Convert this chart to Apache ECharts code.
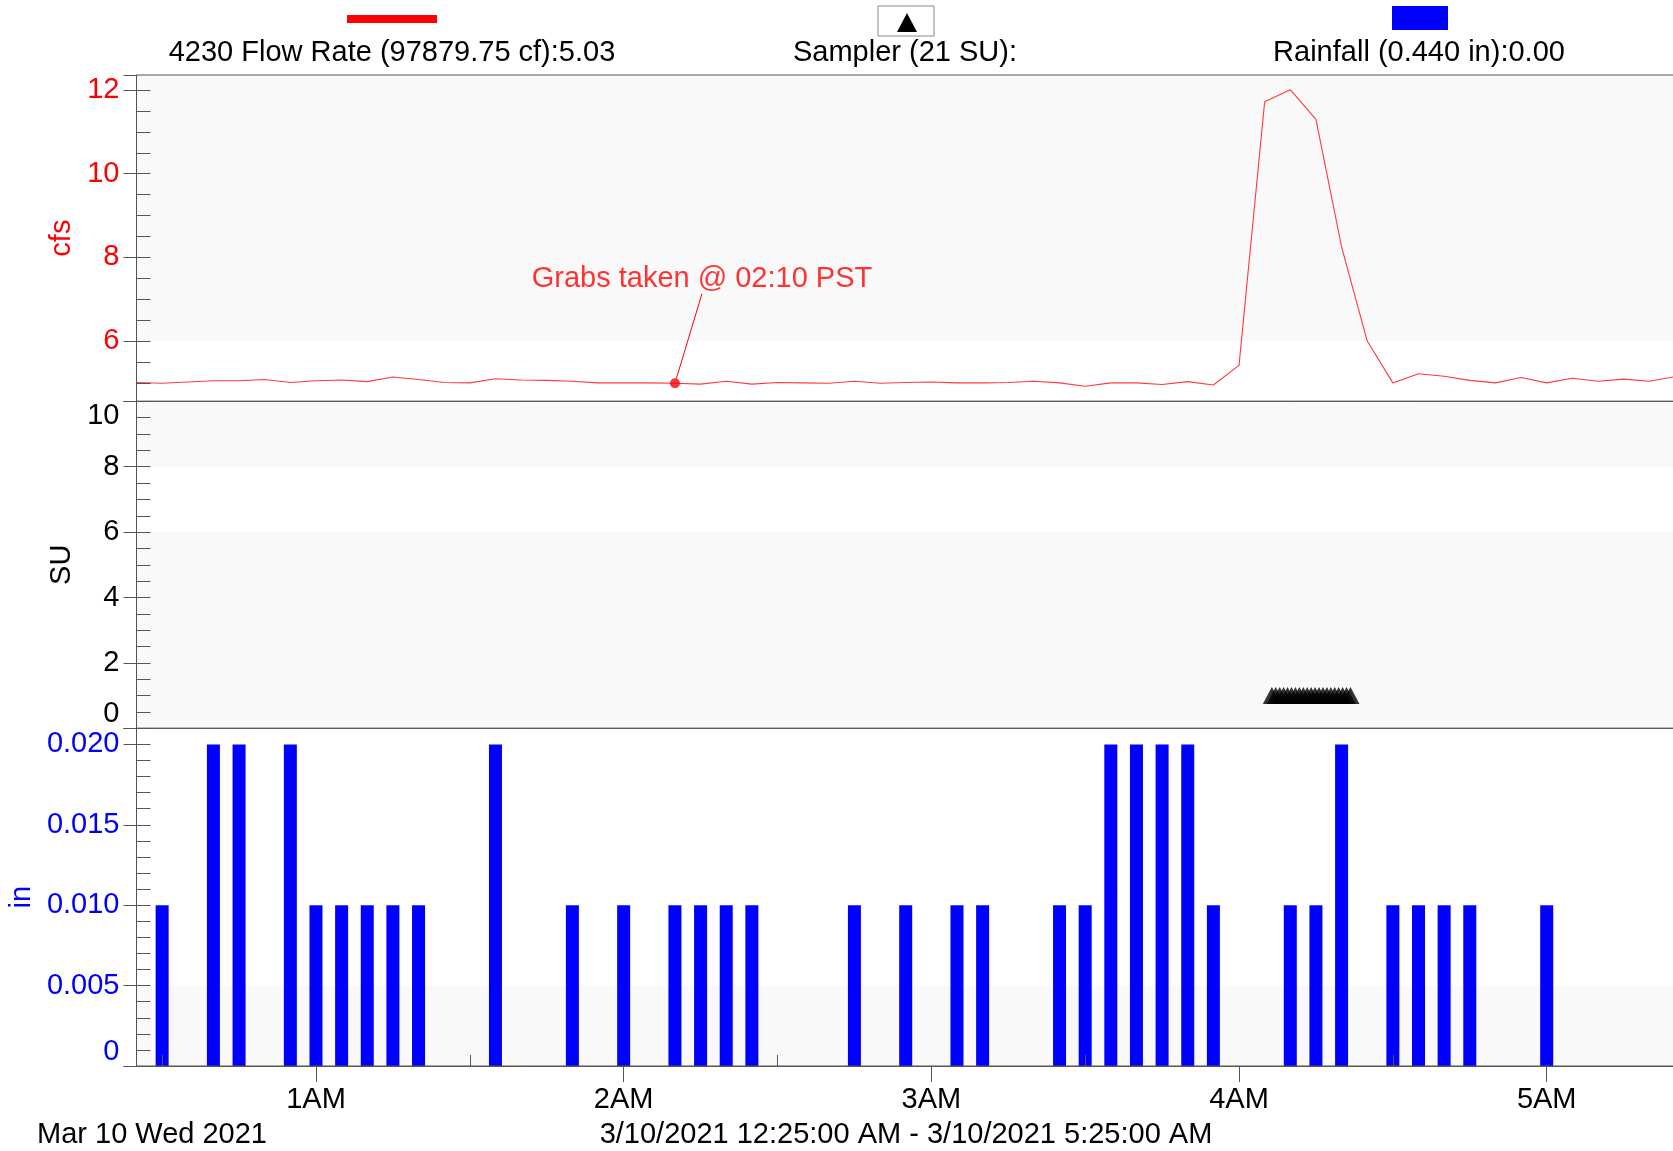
<!DOCTYPE html>
<html><head><meta charset="utf-8">
<script src="https://cdn.jsdelivr.net/npm/echarts@6/dist/echarts.min.js"></script>
<style>html,body{margin:0;padding:0;background:#fff;} #c{width:1673px;height:1151px;}</style>
</head><body><div id="c"></div>
<script>
// ---------- DATA ----------
const flowTimes = ['0:25','0:30','0:35','0:40','0:45','0:50','0:55','1:00','1:05','1:10','1:15','1:20','1:25','1:30','1:35','1:40','1:45','1:50','1:55','2:00','2:05','2:10','2:15','2:20','2:25','2:30','2:35','2:40','2:45','2:50','2:55','3:00','3:05','3:10','3:15','3:20','3:25','3:30','3:35','3:40','3:45','3:50','3:55','4:00','4:05','4:10','4:15','4:20','4:25','4:30','4:35','4:40','4:45','4:50','4:55','5:00','5:05','5:10','5:15','5:20','5:25'];
const flowValues = [5.01,4.99,5.02,5.05,5.05,5.08,5.01,5.05,5.07,5.03,5.14,5.08,5.01,5.00,5.10,5.07,5.06,5.04,5.00,5.00,5.00,4.99,4.97,5.04,4.97,5.01,5.00,4.99,5.04,4.99,5.01,5.02,5.00,5.00,5.01,5.04,5.00,4.92,5.00,5.00,4.96,5.03,4.95,5.42,11.72,12.01,11.30,8.25,6.00,5.00,5.22,5.16,5.06,5.00,5.13,5.00,5.11,5.04,5.09,5.04,5.15];

const rainTimes = ['0:30','0:40','0:45','0:55','1:00','1:05','1:10','1:15','1:20','1:35','1:50','2:00','2:10','2:15','2:20','2:25','2:45','2:55','3:05','3:10','3:25','3:30','3:35','3:40','3:45','3:50','3:55','4:10','4:15','4:20','4:30','4:35','4:40','4:45','5:00'];
const rainValues = [0.01,0.02,0.02,0.02,0.01,0.01,0.01,0.01,0.01,0.02,0.01,0.01,0.01,0.01,0.01,0.01,0.01,0.01,0.01,0.01,0.01,0.01,0.02,0.02,0.02,0.02,0.01,0.01,0.01,0.02,0.01,0.01,0.01,0.01,0.01];

const samplerTimes = ['4:06:24','4:07:10','4:07:56','4:08:42','4:09:28','4:10:14','4:11:00','4:11:46','4:12:32','4:13:18','4:14:04','4:14:50','4:15:36','4:16:22','4:17:08','4:17:54','4:18:40','4:19:26','4:20:12','4:20:58','4:21:44'];
const samplerValues = [1,1,1,1,1,1,1,1,1,1,1,1,1,1,1,1,1,1,1,1,1];

const xRange = ['0:25','5:26'];   // plot runs slightly past the right edge of the picture
const xTickTimes = ['1:00','2:00','3:00','4:00','5:00'];
const xTickLabels = ['1AM','2AM','3AM','4AM','5AM'];
const xHalfTickTimes = ['0:30','1:30','2:30','3:30','4:30'];

const flowRange = [4.56, 12.36];
const flowTickLabels = [6, 8, 10, 12];
const suRange = [0, 10];
const suTickLabels = [0, 2, 4, 6, 8, 10];
const rainRange = [0, 0.021];
const rainTickLabels = [0, 0.005, 0.010, 0.015, 0.020];

const grabTime = '2:10';
const grabValue = 4.99;
const grabText = 'Grabs taken @ 02:10 PST';

const legendFlowText = '4230 Flow Rate (97879.75 cf):5.03';
const legendSamplerText = 'Sampler (21 SU):';
const legendRainText = 'Rainfall (0.440 in):0.00';
const dateText = 'Mar 10 Wed 2021';
const rangeText = '3/10/2021 12:25:00 AM - 3/10/2021 5:25:00 AM';

// ---------- HELPERS ----------
function toMin(s) { const p = s.split(':').map(Number); return p[0] * 60 + p[1] + (p.length > 2 ? p[2] / 60 : 0); }
function steps(a, b, st) { const r = []; for (let v = a; v <= b + 1e-9; v += st) r.push(+v.toFixed(6)); return r; }

const FONT = '"Liberation Sans", Arial, sans-serif';
const RED = '#ff0000', BLUE = '#0000ff', AXIS = '#555', BAND = '#f9f9f9';
const FS = 29;

const xMin = toMin(xRange[0]), xMax = toMin(xRange[1]);
const pxPerMin = 5.128;
const gridLeft = 136.5, gridWidth = (xMax - xMin) * pxPerMin;

function hiddenX(gi) {
  return { type: 'value', gridIndex: gi, min: xMin, max: xMax, show: false };
}
function mainY(gi, range, labels, color, name, nameGap, fmt, extraLabel) {
  return {
    type: 'value', gridIndex: gi, min: range[0], max: range[1], position: 'left', z: 10,
    name: name, nameLocation: 'middle', nameRotate: 90, nameGap: nameGap,
    nameTextStyle: { color: color, fontSize: FS, fontFamily: FONT },
    axisLine: { show: true, lineStyle: { color: AXIS, width: 1 } },
    axisTick: { show: true, inside: false, length: 13, customValues: [range[0]].concat(labels, [range[1]]), lineStyle: { color: AXIS } },
    axisLabel: Object.assign({ show: true, customValues: labels, color: color, fontSize: FS, fontFamily: FONT, margin: 17, formatter: fmt }, extraLabel || {}),
    splitLine: { show: false }
  };
}
function minorY(gi, range, ticks) {
  return {
    type: 'value', gridIndex: gi, min: range[0], max: range[1], position: 'left', offset: 0, z: 10,
    axisLine: { show: false },
    axisTick: { show: true, inside: true, length: 14, customValues: ticks, lineStyle: { color: AXIS } },
    axisLabel: { show: false }, splitLine: { show: false }
  };
}
function gridAt(top, height) {
  return { left: gridLeft, width: gridWidth, top: top, height: height, show: true, borderColor: AXIS, borderWidth: 1, z: 9,
    containLabel: false, outerBoundsMode: 'none' };
}

const option = {
  animation: false,
  backgroundColor: '#fff',
  textStyle: { fontFamily: FONT },
  grid: [gridAt(75, 326.3), gridAt(401.3, 327), gridAt(728.3, 337.7)],
  xAxis: [
    hiddenX(0), hiddenX(1),
    {
      type: 'value', gridIndex: 2, min: xMin, max: xMax, position: 'bottom', z: 10,
      axisLine: { show: true, lineStyle: { color: AXIS } },
      axisTick: { show: true, inside: false, length: 16, customValues: xTickTimes.map(toMin), lineStyle: { color: AXIS } },
      axisLabel: { show: true, customValues: xTickTimes.map(toMin), color: '#000', fontSize: FS, fontFamily: FONT, margin: 19,
        formatter: v => { const i = xTickTimes.map(toMin).indexOf(v); return i >= 0 ? xTickLabels[i] : ''; } },
      splitLine: { show: false }
    },
    {
      type: 'value', gridIndex: 2, min: xMin, max: xMax, position: 'bottom', offset: 0, z: 10,
      axisLine: { show: false },
      axisTick: { show: true, inside: true, length: 11, customValues: xHalfTickTimes.map(toMin), lineStyle: { color: AXIS } },
      axisLabel: { show: false }, splitLine: { show: false }
    }
  ],
  yAxis: [
    mainY(0, flowRange, flowTickLabels, RED, 'cfs', 56, v => String(v)),
    minorY(0, flowRange, steps(5, 12, 0.5)),
    mainY(1, suRange, suTickLabels, '#000', 'SU', 54, v => String(v), { verticalAlignMinLabel: 'bottom', verticalAlignMaxLabel: 'top' }),
    minorY(1, suRange, steps(0, 10, 0.5)),
    mainY(2, rainRange, rainTickLabels, BLUE, 'in', 98, v => v === 0 ? '0' : v.toFixed(3), { verticalAlignMinLabel: 'bottom' }),
    minorY(2, rainRange, steps(0, 0.02, 0.001))
  ],
  series: [
    {
      name: 'Flow', type: 'line', xAxisIndex: 0, yAxisIndex: 0,
      data: flowTimes.map((t, i) => [toMin(t), flowValues[i]]),
      symbol: 'none', lineStyle: { color: '#ff3a3a', width: 1.1 },
      markArea: { silent: true, itemStyle: { color: BAND }, data: [[{ yAxis: 6 }, { yAxis: flowRange[1] }]] },
      z: 2
    },
    {
      name: 'Grab', type: 'scatter', xAxisIndex: 0, yAxisIndex: 0,
      data: [[toMin(grabTime), grabValue]],
      symbol: 'circle', symbolSize: 10, itemStyle: { color: RED },
      label: { show: true, position: 'inside', formatter: grabText, color: RED, fontSize: FS, fontFamily: FONT },
      labelLayout: { dx: 27, dy: -104 },
      labelLine: { show: true, lineStyle: { color: RED, width: 1 } },
      z: 5
    },
    {
      name: 'Sampler', type: 'scatter', xAxisIndex: 1, yAxisIndex: 2,
      data: samplerTimes.map((t, i) => [toMin(t), samplerValues[i]]),
      symbol: 'triangle', symbolSize: [18, 17], itemStyle: { color: '#000' },
      markArea: { silent: true, itemStyle: { color: BAND }, data: [[{ yAxis: 8 }, { yAxis: 10 }], [{ yAxis: 0 }, { yAxis: 6 }]] },
      z: 2
    },
    {
      name: 'Rainfall', type: 'bar', xAxisIndex: 2, yAxisIndex: 4,
      data: rainTimes.map((t, i) => [toMin(t), rainValues[i]]),
      barWidth: 13, itemStyle: { color: BLUE },
      markArea: { silent: true, itemStyle: { color: BAND }, data: [[{ yAxis: 0 }, { yAxis: 0.005 }]] },
      z: 2
    }
  ],
  graphic: [
    { type: 'rect', shape: { x: 347, y: 15, width: 90, height: 8 }, style: { fill: RED } },
    { type: 'text', x: 392, y: 53, style: { text: legendFlowText, fill: '#000', fontSize: FS, fontFamily: FONT, align: 'center', verticalAlign: 'middle' } },
    { type: 'rect', shape: { x: 878, y: 6, width: 56, height: 30 }, style: { fill: '#fff', stroke: '#888', lineWidth: 1 } },
    { type: 'polygon', shape: { points: [[907, 13], [897, 32], [917, 32]] }, style: { fill: '#000' } },
    { type: 'text', x: 905, y: 53, style: { text: legendSamplerText, fill: '#000', fontSize: FS, fontFamily: FONT, align: 'center', verticalAlign: 'middle' } },
    { type: 'rect', shape: { x: 1392, y: 6, width: 56, height: 24 }, style: { fill: BLUE } },
    { type: 'text', x: 1419, y: 53, style: { text: legendRainText, fill: '#000', fontSize: FS, fontFamily: FONT, align: 'center', verticalAlign: 'middle' } },
    { type: 'text', x: 37, y: 1135, style: { text: dateText, fill: '#000', fontSize: FS, fontFamily: FONT, align: 'left', verticalAlign: 'middle' } },
    { type: 'text', x: 906, y: 1135, style: { text: rangeText, fill: '#000', fontSize: FS, fontFamily: FONT, align: 'center', verticalAlign: 'middle' } }
  ]
};

const chart = echarts.init(document.getElementById('c'), null, { renderer: 'canvas' });
chart.setOption(option);
</script>
</body></html>
